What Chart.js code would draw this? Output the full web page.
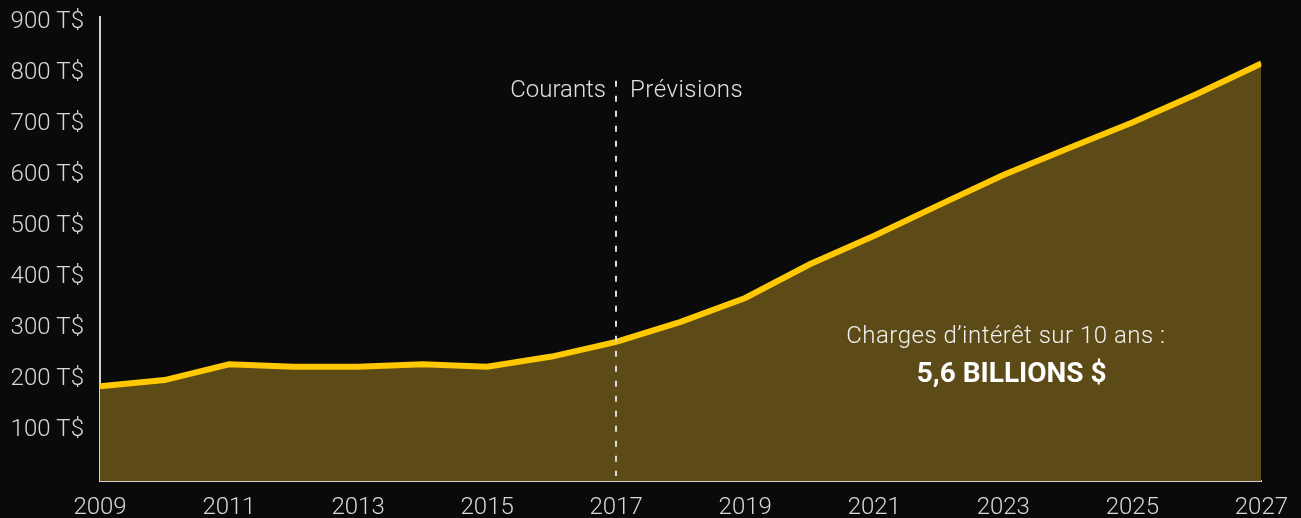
<!DOCTYPE html>
<html>
<head>
<meta charset="utf-8">
<script src="https://cdn.jsdelivr.net/npm/chart.js@4.4.1/dist/chart.umd.min.js"></script>
<style>
  html, body { margin: 0; padding: 0; background: #0a0a0a; }
  #wrap { width: 1301px; height: 518px; position: relative; }
</style>
</head>
<body>
<div id="wrap"><canvas id="c"></canvas></div>
<script>
// Data
const years = [2009, 2010, 2011, 2012, 2013, 2014, 2015, 2016, 2017, 2018, 2019, 2020, 2021, 2022, 2023, 2024, 2025, 2026, 2027];
const interest = [186, 198, 229, 224, 224, 229, 224, 244, 273, 312, 359, 425, 481, 541, 600, 652, 703, 759, 819];
const yTickValues = [100, 200, 300, 400, 500, 600, 700, 800, 900];
const yTickSuffix = ' T$';
const splitYear = 2017;
const labelPast = 'Courants';
const labelFuture = 'Prévisions';
const noteLine1 = 'Charges d\u2019intérêt sur 10 ans :';
const noteLine2 = '5,6 BILLIONS $';

const FONT = 'Roboto';
const points = years.map((y, i) => ({ x: y, y: interest[i] }));

const overlay = {
  id: 'overlay',
  afterDatasetsDraw(chart) {
    const { ctx, scales: { x, y } } = chart;
    const px = Math.round(x.getPixelForValue(splitYear));
    ctx.save();
    // dashed divider
    ctx.strokeStyle = '#dcdcdc';
    ctx.lineWidth = 2;
    ctx.setLineDash([6, 9]);
    ctx.beginPath();
    ctx.moveTo(px, y.getPixelForValue(785));
    ctx.lineTo(px, y.getPixelForValue(10));
    ctx.stroke();
    ctx.setLineDash([]);
    // labels
    ctx.fillStyle = '#e0e0e0';
    ctx.font = '300 24px ' + FONT;
    ctx.textBaseline = 'middle';
    const ty = y.getPixelForValue(764);
    ctx.textAlign = 'right';
    ctx.fillText(labelPast, px - 10, ty);
    if ('letterSpacing' in ctx) ctx.letterSpacing = '0.5px';
    ctx.textAlign = 'left';
    ctx.fillText(labelFuture, px + 14, ty);
    // note
    ctx.textAlign = 'center';
    ctx.fillStyle = '#f2f2f2';
    ctx.font = '300 24px ' + FONT;
    ctx.fillText(noteLine1, x.getPixelForValue(2023.04), y.getPixelForValue(282));
    if ('letterSpacing' in ctx) ctx.letterSpacing = '0px';
    ctx.font = 'bold 28px ' + FONT;
    ctx.fillStyle = '#ffffff';
    ctx.fillText(noteLine2, x.getPixelForValue(2023.13), y.getPixelForValue(208));
    ctx.restore();
  }
};

new Chart(document.getElementById('c'), {
  type: 'line',
  data: {
    datasets: [{
      data: points,
      borderColor: '#ffc800',
      backgroundColor: '#5c4a17',
      borderWidth: 6,
      fill: 'origin',
      pointRadius: 0,
      tension: 0
    }]
  },
  options: {
    responsive: true,
    maintainAspectRatio: false,
    animation: false,
    layout: { padding: { top: 17, right: 36, left: 0, bottom: 0 } },
    plugins: { legend: { display: false }, tooltip: { enabled: false } },
    scales: {
      x: {
        type: 'linear',
        min: 2009,
        max: 2027,
        grid: { display: false, drawTicks: false },
        border: { display: true, color: '#d0d0d0', width: 2 },
        afterFit: s => { s.height = 37; },
        afterBuildTicks: s => { s.ticks = years.filter((v, i) => i % 2 === 0).map(v => ({ value: v })); },
        ticks: {
          color: '#d8d8d8',
          font: { family: FONT, size: 24, weight: '300' },
          padding: 13,
          maxRotation: 0,
          autoSkip: false,
          callback: v => String(v)
        }
      },
      y: {
        min: 0,
        max: 910,
        grid: { display: false, drawTicks: false },
        border: { display: true, color: '#d0d0d0', width: 2 },
        afterFit: s => { s.width = 100; s.paddingTop = 0; s.paddingBottom = 0; },
        afterBuildTicks: s => { s.ticks = yTickValues.map(v => ({ value: v })); },
        ticks: {
          color: '#d8d8d8',
          font: { family: FONT, size: 24, weight: '300' },
          padding: 16,
          callback: v => v + yTickSuffix
        }
      }
    }
  },
  plugins: [overlay]
});
</script>
</body>
</html>
